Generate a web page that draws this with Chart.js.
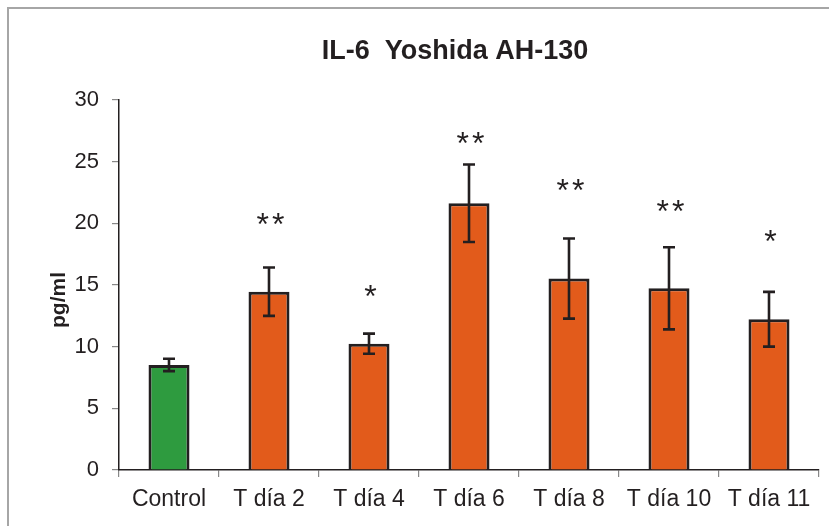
<!DOCTYPE html>
<html>
<head>
<meta charset="utf-8">
<script src="https://cdn.jsdelivr.net/npm/chart.js@4.4.1/dist/chart.umd.min.js"></script>
<style>
  body { margin: 0; background: #fff; }
  #wrap { position: relative; width: 829px; height: 526px; }
  #frame { position: absolute; left: 7px; top: 7px; right: -10px; bottom: -10px; border-top: 2px solid #a6a6a6; border-left: 2px solid #a6a6a6; }
  canvas { position: absolute; left: 0; top: 0; }
</style>
</head>
<body>
<div id="wrap">
  <div id="frame"></div>
  <canvas id="myChart" width="829" height="526"></canvas>
</div>
<script>
// data
var groups = ["Control", "T día 2", "T día 4", "T día 6", "T día 8", "T día 10", "T día 11"];
var means = [8.52, 14.46, 10.24, 21.63, 15.52, 14.73, 12.22];
var errors = [0.5, 1.96, 0.82, 3.14, 3.25, 3.33, 2.22];
var stars = ["", "**", "*", "**", "**", "**", "*"];
var starLevels = [null, 20.5, 14.65, 27.1, 23.3, 21.6, 19.1];
var yTicks = [0, 5, 10, 15, 20, 25, 30];

var barColors = ['#2e9b3f', '#e25b1b', '#e25b1b', '#e25b1b', '#e25b1b', '#e25b1b', '#e25b1b'];
var fontFam = "'Liberation Sans', Arial, sans-serif";

// title, error bars, asterisks and the y title
var extras = {
    id: 'extras',
    afterDatasetsDraw: function (chart) {
        var ctx = chart.ctx;
        var x = chart.scales.x;
        var y = chart.scales.y;
        var a = chart.chartArea;
        ctx.save();
        ctx.fillStyle = '#231f20';
        ctx.textAlign = 'center';
        ctx.textBaseline = 'middle';
        ctx.font = 'bold 27px ' + fontFam;
        ctx.fillText('IL-6  Yoshida AH-130', (a.left + a.right) / 2 - 14, a.top - 48);

        ctx.strokeStyle = '#231f20';
        ctx.lineWidth = 2.6;
        for (var i = 0; i < means.length; i++) {
            var cx = x.getPixelForValue(i);
            var top = y.getPixelForValue(means[i] + errors[i]);
            var bot = y.getPixelForValue(means[i] - errors[i]);
            ctx.beginPath();
            ctx.moveTo(cx, top); ctx.lineTo(cx, bot);
            ctx.moveTo(cx - 6, top); ctx.lineTo(cx + 6, top);
            ctx.moveTo(cx - 6, bot); ctx.lineTo(cx + 6, bot);
            ctx.stroke();
        }
        ctx.font = '32px ' + fontFam;
        ctx.textBaseline = 'alphabetic';
        ctx.letterSpacing = '3px';
        for (var j = 0; j < stars.length; j++) {
            if (!stars[j]) continue;
            var sx = x.getPixelForValue(j) + 3;
            var sy = y.getPixelForValue(starLevels[j]) + 18;
            ctx.fillText(stars[j], sx, sy);
        }
        ctx.letterSpacing = '0px';
        // y axis title
        ctx.translate(a.left - 60, (a.top + a.bottom) / 2 + 15);
        ctx.rotate(-Math.PI / 2);
        ctx.font = 'bold 21px ' + fontFam;
        ctx.textBaseline = 'middle';
        ctx.fillText('pg/ml', 0, 0);
        ctx.restore();
    }
};

var ctx = document.getElementById('myChart').getContext('2d');
var chart = new Chart(ctx, {
    type: 'bar',
    data: {
        labels: groups,
        datasets: [{
            data: means,
            backgroundColor: barColors,
            borderColor: '#231f20',
            borderWidth: 3,
            barPercentage: 0.41,
            categoryPercentage: 1.0
        }]
    },
    options: {
        responsive: false,
        animation: false,
        layout: { padding: { left: 0, right: 10, top: 100, bottom: 0 } },
        plugins: {
            legend: { display: false },
            tooltip: { enabled: false },
            title: { display: false }
        },
        scales: {
            x: {
                offset: true,
                grid: { offset: true, drawOnChartArea: false, tickLength: 7, color: '#888', lineWidth: 1.2 },
                border: { color: '#231f20', width: 1.5 },
                ticks: { color: '#231f20', font: { family: fontFam, size: 23 }, padding: 9, maxRotation: 0, autoSkip: false },
                afterFit: function (s) { s.height = 56; }
            },
            y: {
                min: 0,
                max: 30,
                afterBuildTicks: function (s) { s.ticks = yTicks.map(function (v) { return { value: v }; }); },
                grid: { drawOnChartArea: false, tickLength: 7, color: '#888', lineWidth: 1.2 },
                border: { color: '#231f20', width: 1.5 },
                ticks: { color: '#231f20', font: { family: fontFam, size: 22 }, padding: 13 },
                afterFit: function (s) { s.width = 119; }
            }
        }
    },
    plugins: [extras]
});
</script>
</body>
</html>
